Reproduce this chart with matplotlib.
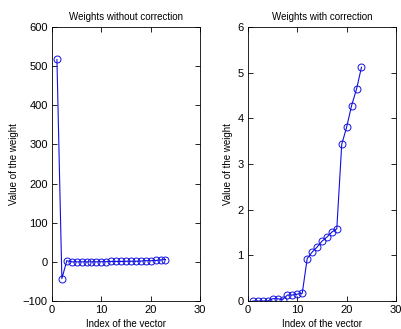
import matplotlib.pyplot as plt
import numpy as np

plt.rcParams['font.family'] = ['Liberation Sans', 'DejaVu Sans']
plt.rcParams['font.size'] = 7

# index of the vector
idx = np.arange(1, 24)

# weights without correction
w_raw = [517, -43, 3, 0, 0, 0, 0, 0, 0, 0.5, 0.5, 1, 1, 1, 1.5, 1.5, 1.5, 2,
         3, 3, 3.5, 5, 6]

# weights with correction
w_corr = [0, 0, 0, 0, 0.05, 0.05, 0.03, 0.13, 0.13, 0.15, 0.17, 0.93, 1.07,
          1.18, 1.31, 1.40, 1.51, 1.58, 3.43, 3.81, 4.28, 4.64, 5.12]

fig = plt.figure(figsize=(4.01, 3.29), dpi=100)
ax1 = fig.add_axes([52 / 401, 1 - 301 / 329, 148 / 401, 274 / 329])
ax2 = fig.add_axes([248 / 401, 1 - 301 / 329, 148 / 401, 274 / 329])

blue = '#1010e0'

def style(ax):
    ax.tick_params(direction='in', top=True, right=True, length=3.5, width=0.6,
                   colors='black', labelsize=8, pad=3)
    for s in ax.spines.values():
        s.set_linewidth(0.6)

ax1.plot(idx, w_raw, '-o', color=blue, lw=0.8, ms=5, mfc='none', mew=0.7)
ax1.set_xlim(0, 30)
ax1.set_ylim(-100, 600)
ax1.set_xticks([0, 10, 20, 30])
ax1.set_yticks(np.arange(-100, 601, 100))
ax1.set_title('Weights without correction', fontsize=7, pad=5)
ax1.set_xlabel('Index of the vector', labelpad=3)
ax1.set_ylabel('Value of the weight', labelpad=3)
style(ax1)

ax2.plot(idx, w_corr, '-o', color=blue, lw=0.8, ms=5, mfc='none', mew=0.7)
ax2.set_xlim(0, 30)
ax2.set_ylim(0, 6)
ax2.set_xticks([0, 10, 20, 30])
ax2.set_yticks(np.arange(0, 7, 1))
ax2.set_title('Weights with correction', fontsize=7, pad=5)
ax2.set_xlabel('Index of the vector', labelpad=3)
ax2.set_ylabel('Value of the weight', labelpad=3)
style(ax2)

fig.savefig('out.png', dpi=100)
